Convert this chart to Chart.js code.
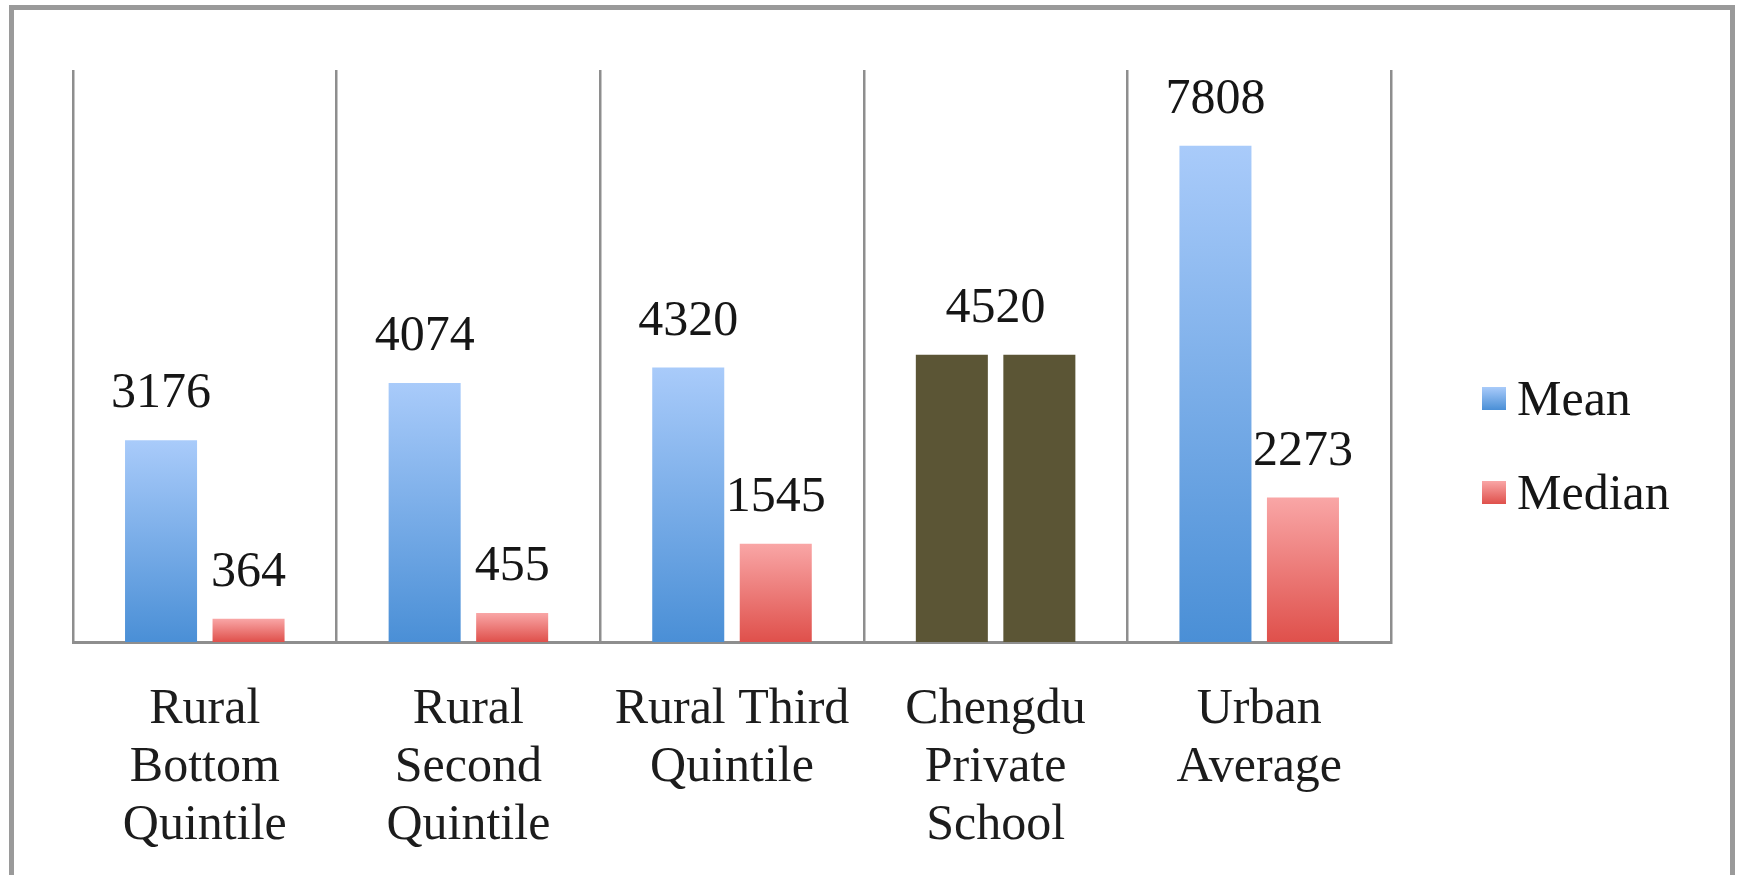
<!DOCTYPE html>
<html>
<head>
<meta charset="utf-8">
<title>Mean and Median</title>
<script src="https://cdn.jsdelivr.net/npm/chart.js@4/dist/chart.umd.min.js"></script>
<style>
  body { margin: 0; background: #fff; }
  #frame {
    position: absolute; left: 9px; top: 5px;
    width: 1726px; height: 900px;
    border: 5px solid #9a9a9a; box-sizing: border-box;
  }
  #chart { position: absolute; left: 0; top: 0; }
</style>
</head>
<body>
<div id="frame"></div>
<canvas id="chart" width="1741" height="875"></canvas>
<script>
// -----------------------------
// Data
// -----------------------------
const categories = [
  ['Rural', 'Bottom', 'Quintile'],
  ['Rural', 'Second', 'Quintile'],
  ['Rural Third', 'Quintile'],
  ['Chengdu', 'Private', 'School'],
  ['Urban', 'Average']
];
const meanValues = [3176, 4074, 4320, 4520, 7808];
const medianValues = [364, 455, 1545, 4520, 2273];
const yMax = 9000;

const FONT = "'Liberation Serif', 'Times New Roman', serif";
const OLIVE = '#5b5535';
const meanStops = ['#a9cbfa', '#4a8fd6'];
const medianStops = ['#f9a6a6', '#df504b'];

// vertical gradient per bar, from its top down to the baseline
const barFill = stops => ctx => {
  if (ctx.type !== 'data') return stops[1];
  const i = ctx.dataIndex;
  // both series share a single value here, drawn as plain olive bars
  if (meanValues[i] === medianValues[i]) return OLIVE;
  const chart = ctx.chart;
  const y = chart.scales.y;
  if (!chart.chartArea || !y) return stops[1];
  const g = chart.ctx.createLinearGradient(0, y.getPixelForValue(ctx.raw), 0, y.getPixelForValue(0));
  g.addColorStop(0, stops[0]);
  g.addColorStop(1, stops[1]);
  return g;
};

// -----------------------------
// Value labels above bars
// -----------------------------
const valueLabels = {
  id: 'valueLabels',
  afterDatasetsDraw(chart) {
    const c = chart.ctx;
    c.save();
    c.font = '50px ' + FONT;
    c.fillStyle = '#161616';
    c.textAlign = 'center';
    c.textBaseline = 'middle';
    chart.data.datasets.forEach((ds, di) => {
      chart.getDatasetMeta(di).data.forEach((bar, i) => {
        const shared = meanValues[i] === medianValues[i];
        if (shared && di > 0) return;
        const x = shared ? chart.scales.x.getPixelForValue(i) : bar.x;
        c.fillText(String(ds.data[i]), x, bar.y - 46);
      });
    });
    c.restore();
  }
};

// -----------------------------
// Legend on the right (squares + series names)
// -----------------------------
const sideLegend = {
  id: 'sideLegend',
  afterDraw(chart) {
    const c = chart.ctx;
    c.save();
    c.font = '50px ' + FONT;
    c.fillStyle = '#161616';
    c.textBaseline = 'middle';
    chart.data.datasets.forEach((ds, di) => {
      const cy = 402 + di * 94;
      const g = c.createLinearGradient(0, cy - 15, 0, cy + 8);
      g.addColorStop(0, ds.stops[0]);
      g.addColorStop(1, ds.stops[1]);
      c.fillStyle = g;
      c.fillRect(1482, cy - 15, 24, 23);
      c.fillStyle = '#161616';
      c.fillText(ds.label, 1517, cy);
    });
    c.restore();
  }
};

new Chart(document.getElementById('chart'), {
  type: 'bar',
  data: {
    labels: categories,
    datasets: [
      {
        label: 'Mean',
        data: meanValues,
        stops: meanStops,
        backgroundColor: barFill(meanStops),
        categoryPercentage: 0.664,
        barPercentage: 0.823
      },
      {
        label: 'Median',
        data: medianValues,
        stops: medianStops,
        backgroundColor: barFill(medianStops),
        categoryPercentage: 0.664,
        barPercentage: 0.823
      }
    ]
  },
  options: {
    responsive: false,
    animation: false,
    layout: { padding: { left: 73, top: 70, right: 350, bottom: 0 } },
    scales: {
      x: {
        grid: { offset: true, color: '#8e8e8e', lineWidth: 2.5, drawTicks: false },
        border: { color: '#8e8e8e', width: 3 },
        ticks: {
          color: '#1c1c1c',
          padding: 39,
          maxRotation: 0,
          autoSkip: false,
          font: { family: FONT, size: 50, lineHeight: 1.16 }
        },
        afterFit: s => { s.height = 233; }
      },
      y: {
        display: false,
        min: 0,
        max: yMax
      }
    },
    plugins: {
      legend: { display: false },
      tooltip: { enabled: false }
    }
  },
  plugins: [valueLabels, sideLegend]
});
</script>
</body>
</html>
